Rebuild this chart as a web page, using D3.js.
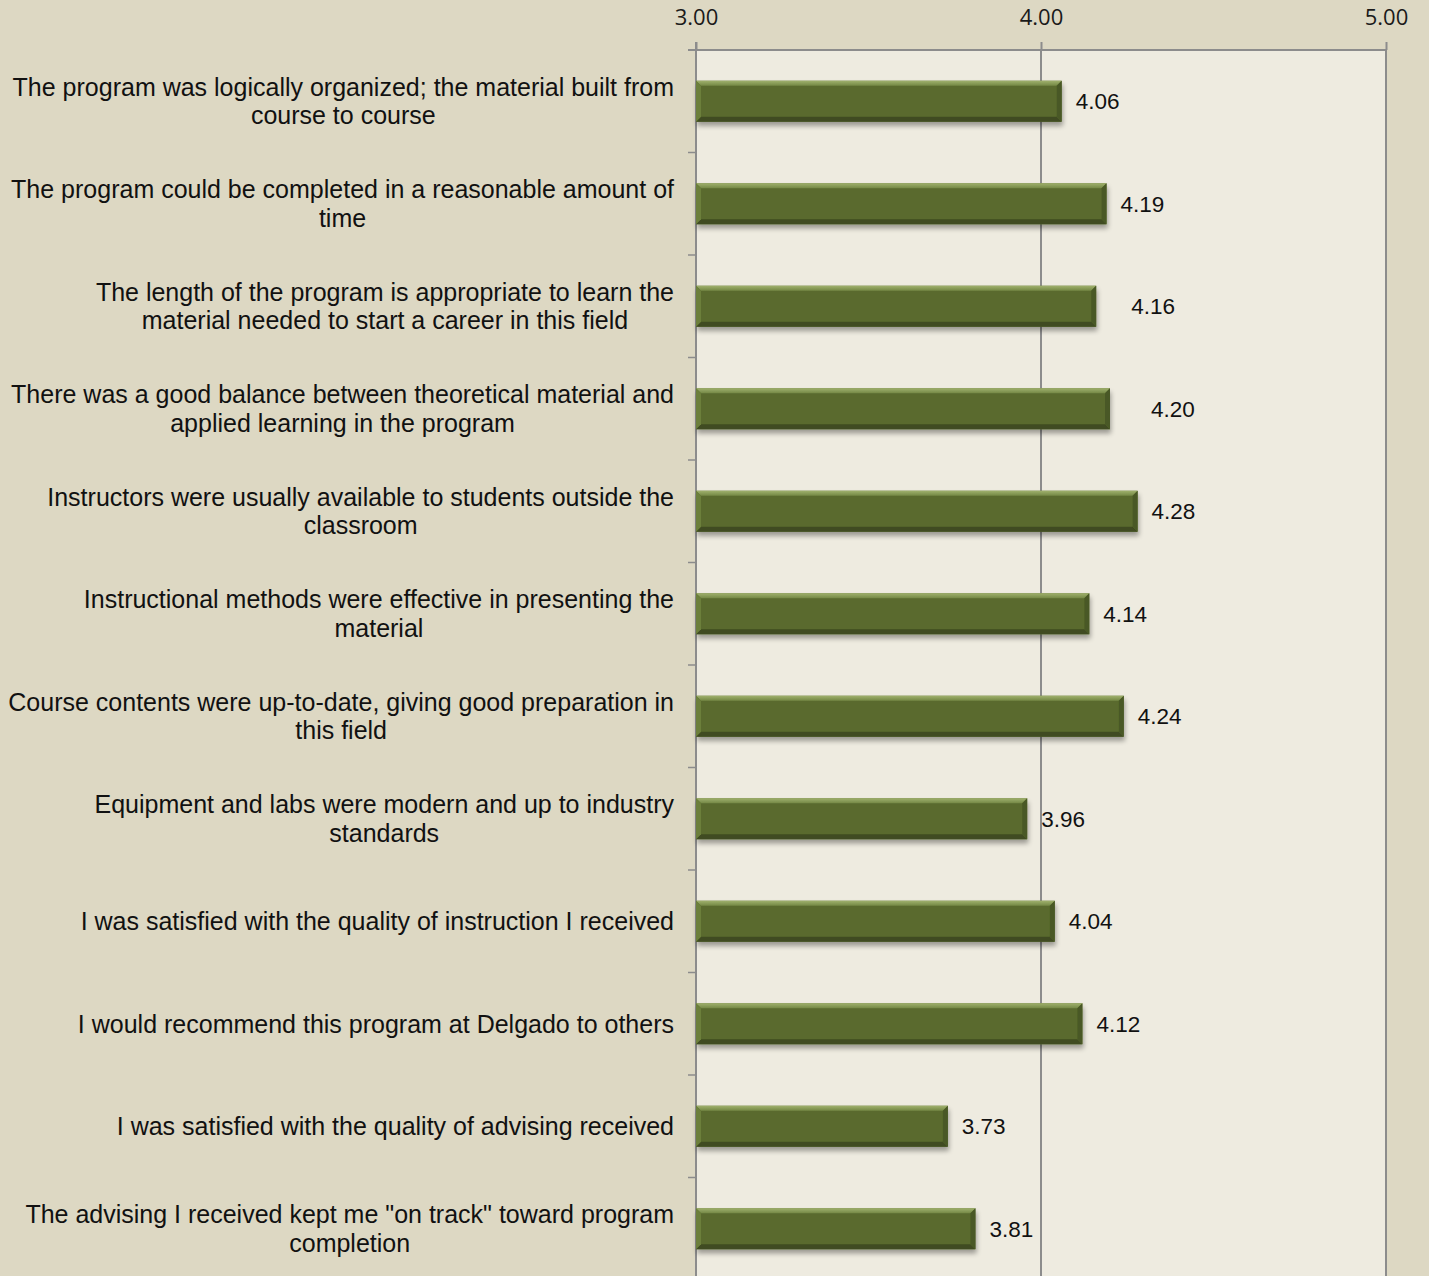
<!DOCTYPE html>
<html>
<head>
<meta charset="utf-8">
<script src="https://cdn.jsdelivr.net/npm/d3@7"></script>
<style>
  body { margin: 0; background: #ddd8c3; }
  svg { display: block; }
</style>
</head>
<body>
<div id="chart"></div>
<script>
// survey items, top to bottom ("\n" marks the line break used in the original)
var categories = [
    "The program was logically organized; the material built from\ncourse to course",
    "The program could be completed in a reasonable amount of\ntime",
    "The length of the program is appropriate to learn the\nmaterial needed to start a career in this field",
    "There was a good balance between theoretical material and\napplied learning in the program",
    "Instructors were usually available to students outside the\nclassroom",
    "Instructional methods were effective in presenting the\nmaterial",
    "Course contents were up-to-date, giving good preparation in\nthis field",
    "Equipment and labs were modern and up to industry\nstandards",
    "I was satisfied with the quality of instruction I received",
    "I would recommend this program at Delgado to others",
    "I was satisfied with the quality of advising received",
    "The advising I received kept me \"on track\" toward program\ncompletion"
];
var values = [4.06, 4.19, 4.16, 4.20, 4.28, 4.14, 4.24, 3.96, 4.04, 4.12, 3.73, 3.81];
var xTicks = [3, 4, 5];

var width = 1429, height = 1276;
var plotLeft = 696, plotRight = 1386, plotTop = 50, plotBottom = 1280;
var labelRight = 674;
// a couple of data labels were dragged to the right in the original
var labelShift = { 2: 21, 3: 27 };

var svg = d3.select('#chart').append('svg')
    .attr('width', width)
    .attr('height', height);

var defs = svg.append('defs');
var shadow = defs.append('filter')
    .attr('id', 'shadow')
    .attr('x', '-5%').attr('y', '-30%')
    .attr('width', '110%').attr('height', '180%');
shadow.append('feGaussianBlur').attr('in', 'SourceAlpha').attr('stdDeviation', 2.5);
shadow.append('feOffset').attr('dx', 1).attr('dy', 4).attr('result', 'off');
shadow.append('feComponentTransfer').append('feFuncA').attr('type', 'linear').attr('slope', 0.35);
var merge = shadow.append('feMerge');
merge.append('feMergeNode');
merge.append('feMergeNode').attr('in', 'SourceGraphic');

var topGrad = defs.append('linearGradient')
    .attr('id', 'topBevel')
    .attr('x1', 0).attr('y1', 0).attr('x2', 0).attr('y2', 1);
topGrad.append('stop').attr('offset', '0%').attr('stop-color', '#a0b16c');
topGrad.append('stop').attr('offset', '100%').attr('stop-color', '#748846');

var x = d3.scaleLinear()
    .domain([3, 5])
    .range([plotLeft, plotRight]);

var y = d3.scaleBand()
    .domain(categories)
    .range([plotTop, plotBottom])
    .paddingInner(0.6)
    .paddingOuter(0.3);

// plot area
svg.append('rect')
    .attr('x', plotLeft)
    .attr('y', plotTop)
    .attr('width', plotRight - plotLeft)
    .attr('height', plotBottom - plotTop)
    .attr('fill', '#eeebe0');

// vertical gridlines
svg.append('g')
    .selectAll('line')
    .data(xTicks.slice(1))
    .enter().append('line')
    .attr('x1', d => x(d)).attr('x2', d => x(d))
    .attr('y1', plotTop).attr('y2', plotBottom)
    .attr('stroke', '#8c8c8c')
    .attr('stroke-width', 2);

// top axis
var xAxis = svg.append('g')
    .attr('transform', 'translate(0,' + plotTop + ')')
    .call(d3.axisTop(x).tickValues(xTicks).tickFormat(d3.format('.2f')).tickSize(8).tickPadding(17));
xAxis.select('.domain').remove();
xAxis.selectAll('line').attr('stroke', '#8c8c8c').attr('stroke-width', 2);
xAxis.selectAll('text')
    .attr('fill', '#1a1a1a')
    .style('font-family', '"Open Sans", "DejaVu Sans", sans-serif')
    .style('font-size', '22px');

svg.append('line')
    .attr('x1', plotLeft - 8).attr('x2', plotRight)
    .attr('y1', plotTop).attr('y2', plotTop)
    .attr('stroke', '#8c8c8c').attr('stroke-width', 2);

// left axis with ticks on the category boundaries
svg.append('line')
    .attr('x1', plotLeft).attr('x2', plotLeft)
    .attr('y1', plotTop - 8).attr('y2', plotBottom)
    .attr('stroke', '#8c8c8c').attr('stroke-width', 2);

svg.append('g')
    .selectAll('line')
    .data(categories.slice(1))
    .enter().append('line')
    .attr('x1', plotLeft - 8).attr('x2', plotLeft)
    .attr('y1', d => y(d) - y.step() * 0.3)
    .attr('y2', d => y(d) - y.step() * 0.3)
    .attr('stroke', '#8c8c8c').attr('stroke-width', 1.5);

// category labels, lines centred on each other, block right-aligned
var labels = svg.append('g')
    .selectAll('text')
    .data(categories)
    .enter().append('text')
    .style('font-family', '"Liberation Sans", Arial, sans-serif')
    .style('font-size', '25px')
    .attr('fill', '#111')
    .attr('text-anchor', 'middle');

labels.each(function (d) {
    var t = d3.select(this);
    var lines = d.split('\n');
    var cy = y(d) + y.bandwidth() / 2;
    var lh = 28.5;
    lines.forEach((ln, i) => {
        t.append('tspan')
            .attr('y', cy + (i - (lines.length - 1) / 2) * lh)
            .attr('dy', '0.35em')
            .text(ln);
    });
    var maxW = 0;
    t.selectAll('tspan').each(function () {
        maxW = Math.max(maxW, this.getComputedTextLength());
    });
    t.selectAll('tspan').attr('x', labelRight - maxW / 2);
});

// bars with a bevel
var bev = 5;
var bars = svg.append('g')
    .selectAll('g')
    .data(values)
    .enter().append('g')
    .attr('filter', 'url(#shadow)');

bars.each(function (v, i) {
    var g = d3.select(this);
    var x0 = x(3), x1 = x(v);
    var y0 = y(categories[i]), h = y.bandwidth(), y1 = y0 + h;
    g.append('rect')
        .attr('x', x0).attr('y', y0)
        .attr('width', x1 - x0).attr('height', h)
        .attr('fill', '#5a6b2e');
    // top
    g.append('polygon')
        .attr('points', [[x0, y0], [x1, y0], [x1 - bev, y0 + bev], [x0 + bev, y0 + bev]].join(' '))
        .attr('fill', 'url(#topBevel)');
    // bottom
    g.append('polygon')
        .attr('points', [[x0, y1], [x1, y1], [x1 - bev, y1 - bev], [x0 + bev, y1 - bev]].join(' '))
        .attr('fill', '#3f4b20');
    // left
    g.append('polygon')
        .attr('points', [[x0, y0], [x0 + bev, y0 + bev], [x0 + bev, y1 - bev], [x0, y1]].join(' '))
        .attr('fill', '#6c7f3a');
    // right
    g.append('polygon')
        .attr('points', [[x1, y0], [x1 - bev, y0 + bev], [x1 - bev, y1 - bev], [x1, y1]].join(' '))
        .attr('fill', '#4a5926');
});

// value labels
svg.append('g')
    .selectAll('text')
    .data(values)
    .enter().append('text')
    .attr('x', (d, i) => x(d) + 14 + (labelShift[i] || 0))
    .attr('y', (d, i) => y(categories[i]) + y.bandwidth() / 2)
    .attr('dy', '0.35em')
    .style('font-family', '"Liberation Sans", Arial, sans-serif')
    .style('font-size', '22.5px')
    .attr('fill', '#111')
    .text(d => d.toFixed(2));
</script>
</body>
</html>
